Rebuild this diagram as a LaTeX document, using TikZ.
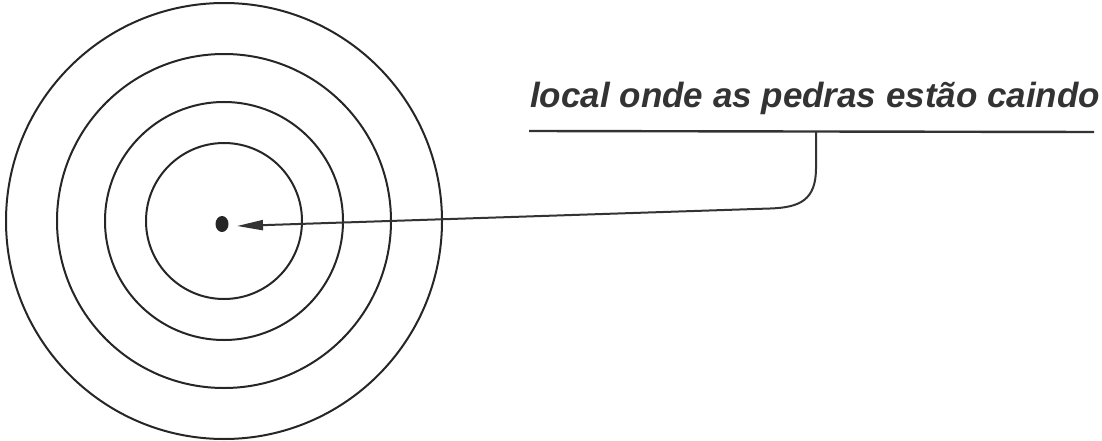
\documentclass[tikz,border=0pt]{standalone}
\usepackage{fontspec}
\setmainfont{Liberation Sans}
\usetikzlibrary{arrows.meta,shapes.geometric}
\begin{document}
\begin{tikzpicture}[x=1pt,y=-1pt,
  ring/.style={draw=black!85, line width=2pt},
  lbl/.style={inner sep=0pt, anchor=base west, font=\fontsize{35}{40}\selectfont\bfseries\itshape, text=black!80},
  conn/.style={draw=black!80, line width=2pt},
  pointer/.style={-{Triangle[length=26pt,width=10pt]}}]
\useasboundingbox (0,0) rectangle (1102,441);
\coordinate (c) at (224,221);
\foreach \r in {218,167,119,78} \draw[ring] (c) circle (\r);
\node[fill=black!85, ellipse, minimum width=13pt, minimum height=16pt, inner sep=0pt] (dot) at (222,224) {};
\node[lbl] (label) at (530,108) {local onde as pedras estão caindo};
\draw[conn, line width=2.4pt] (529,131) -- (1094,132);
\coordinate (j) at (816,132);
\coordinate (t) at (237,226);
\draw[conn, pointer] (j) -- (816,168) .. controls (816,200) and (800,207.5) .. (770,208.5) -- (t);
\end{tikzpicture}
\end{document}
